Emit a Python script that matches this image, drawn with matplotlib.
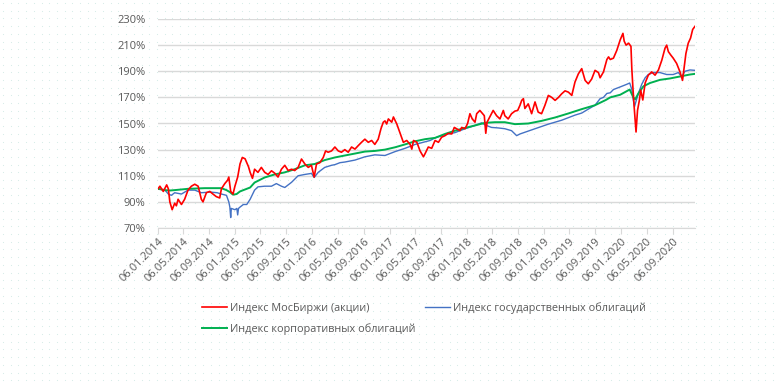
# coding: utf8

from matplotlib import pyplot as plt
import matplotlib.dates as mdates
from matplotlib.ticker import FuncFormatter
import numpy as np
import pandas as pd

# Индекс МосБиржи (акции), % от начального уровня
stock_dates = [
    "2014-01-06", "2014-01-15", "2014-01-23", "2014-01-31", "2014-02-16", "2014-02-24",
    "2014-03-03", "2014-03-14", "2014-03-26", "2014-04-03", "2014-04-11", "2014-04-27",
    "2014-05-12", "2014-05-28", "2014-06-13", "2014-06-29", "2014-07-15", "2014-07-30",
    "2014-08-07", "2014-08-23", "2014-09-08", "2014-09-23", "2014-10-09", "2014-10-25",
    "2014-11-02", "2014-11-18", "2014-12-01", "2014-12-07", "2014-12-16", "2014-12-27",
    "2015-01-05", "2015-01-18", "2015-01-29", "2015-02-09", "2015-02-22", "2015-03-02",
    "2015-03-10", "2015-03-18", "2015-03-29", "2015-04-08", "2015-04-24", "2015-05-10",
    "2015-05-26", "2015-06-11", "2015-06-27", "2015-07-12", "2015-07-28", "2015-08-13",
    "2015-08-29", "2015-09-14", "2015-09-30", "2015-10-15", "2015-10-31", "2015-11-16",
    "2015-12-02", "2015-12-18", "2016-01-02", "2016-01-15", "2016-01-26", "2016-02-11",
    "2016-02-27", "2016-03-09", "2016-03-21", "2016-04-06", "2016-04-22", "2016-05-08",
    "2016-05-23", "2016-06-08", "2016-06-24", "2016-07-10", "2016-07-26", "2016-08-10",
    "2016-08-26", "2016-09-11", "2016-09-27", "2016-10-13", "2016-10-28", "2016-11-13",
    "2016-11-26", "2016-12-07", "2016-12-15", "2016-12-23", "2016-12-31", "2017-01-16",
    "2017-01-24", "2017-02-09", "2017-02-17", "2017-03-04", "2017-03-12", "2017-03-28",
    "2017-04-13", "2017-04-21", "2017-04-29", "2017-05-15", "2017-05-30", "2017-06-15",
    "2017-06-23", "2017-07-08", "2017-07-24", "2017-08-09", "2017-08-25", "2017-09-09",
    "2017-09-25", "2017-10-11", "2017-10-27", "2017-11-08", "2017-11-19", "2017-12-05",
    "2017-12-13", "2017-12-29", "2018-01-10", "2018-01-21", "2018-02-01", "2018-02-14",
    "2018-02-22", "2018-03-09", "2018-03-30", "2018-04-06", "2018-04-12", "2018-04-25",
    "2018-05-11", "2018-05-27", "2018-06-12", "2018-06-28", "2018-07-05", "2018-07-21",
    "2018-08-06", "2018-08-22", "2018-09-04", "2018-09-15", "2018-09-23", "2018-10-01",
    "2018-10-08", "2018-10-24", "2018-11-09", "2018-11-25", "2018-12-10", "2018-12-26",
    "2019-01-11", "2019-01-27", "2019-02-12", "2019-02-28", "2019-03-16", "2019-03-31",
    "2019-04-16", "2019-05-02", "2019-05-18", "2019-06-02", "2019-06-18", "2019-07-04",
    "2019-07-20", "2019-08-04", "2019-08-20", "2019-09-05", "2019-09-21", "2019-09-29",
    "2019-10-15", "2019-10-31", "2019-11-08", "2019-11-16", "2019-12-01", "2019-12-17",
    "2019-12-25", "2020-01-02", "2020-01-15", "2020-01-21", "2020-01-30", "2020-02-11",
    "2020-02-22", "2020-02-26", "2020-03-02", "2020-03-08", "2020-03-13", "2020-03-17",
    "2020-03-24", "2020-04-02", "2020-04-08", "2020-04-18", "2020-04-29", "2020-05-14",
    "2020-05-30", "2020-06-15", "2020-07-01", "2020-07-17", "2020-08-01", "2020-08-09",
    "2020-08-17", "2020-08-28", "2020-09-09", "2020-09-25", "2020-10-11", "2020-10-23",
    "2020-10-30", "2020-11-08", "2020-11-19", "2020-11-30", "2020-12-10", "2020-12-21",
]
stock_values = [
    100, 102, 100, 98, 103, 100,
    90, 84, 89, 87, 92, 88,
    92, 99, 102, 103.5, 102, 92,
    90, 97, 98, 96, 94, 93,
    100, 104, 106.5, 109, 98, 96,
    102, 109, 119, 124, 123, 120,
    117, 112.6, 108, 115, 112.6, 116.4,
    112.6, 111, 113.8, 112, 109, 115,
    118, 114, 115, 114, 116.4, 122.8,
    119, 116.4, 118, 109, 119, 120,
    124, 129, 128, 129, 132, 129,
    128, 130, 128, 132, 130.4, 133,
    135.6, 138, 135.6, 137, 134, 138,
    146, 151, 152, 149.6, 153.5, 151,
    155, 149.6, 146, 139, 135.6, 137,
    134, 130.4, 137, 135.6, 129, 124.5,
    127, 132, 131, 137, 135.6, 139.5,
    140.7, 142.5, 142, 147, 146, 144.5,
    147, 146, 150, 157.5, 153.5, 151,
    157.5, 160, 156, 142.5, 151, 155,
    160, 156, 153.5, 160, 156, 153.5,
    157.5, 159.5, 160, 164, 167.7, 169,
    161.5, 165, 157.5, 166.5, 158.7, 157.5,
    164, 171.5, 170, 167.7, 170, 172.7,
    175, 174, 171.5, 181.7, 188, 192,
    183, 180.4, 184, 190.7, 189, 185,
    189.5, 199, 201, 199, 200, 206,
    210, 214, 219, 213, 210, 211.5,
    209, 192, 178, 163, 152.5, 143.5,
    160, 168, 175.6, 168, 181, 187,
    189.5, 187, 191, 198.5, 207.6, 210,
    205, 202.5, 200, 196, 189.5, 183,
    192, 203.6, 211.5, 215.4, 222, 224.4,
]

# Индекс государственных облигаций
gov_dates = [
    "2014-01-06", "2014-02-08", "2014-02-24", "2014-03-10", "2014-03-26", "2014-04-27",
    "2014-05-28", "2014-06-29", "2014-07-30", "2014-09-11", "2014-10-13", "2014-11-02",
    "2014-11-26", "2014-12-07", "2014-12-12", "2014-12-16", "2014-12-19", "2015-01-05",
    "2015-01-14", "2015-01-18", "2015-01-22", "2015-01-29", "2015-02-14", "2015-03-02",
    "2015-03-18", "2015-04-08", "2015-04-24", "2015-05-26", "2015-06-27", "2015-07-20",
    "2015-08-13", "2015-08-29", "2015-09-30", "2015-10-31", "2015-12-02", "2016-01-02",
    "2016-01-15", "2016-02-03", "2016-03-05", "2016-04-06", "2016-04-22", "2016-05-16",
    "2016-06-08", "2016-07-26", "2016-09-11", "2016-10-28", "2016-12-15", "2017-02-01",
    "2017-03-20", "2017-05-07", "2017-06-23", "2017-07-17", "2017-08-09", "2017-09-25",
    "2017-11-11", "2017-12-29", "2018-02-14", "2018-03-17", "2018-04-09", "2018-05-03",
    "2018-06-04", "2018-07-05", "2018-08-06", "2018-08-30", "2018-09-15", "2018-11-25",
    "2019-01-27", "2019-03-31", "2019-06-02", "2019-07-04", "2019-08-04", "2019-09-05",
    "2019-09-29", "2019-10-15", "2019-10-31", "2019-11-16", "2019-12-01", "2020-01-02",
    "2020-02-02", "2020-02-16", "2020-02-26", "2020-03-04", "2020-03-10", "2020-03-17",
    "2020-03-28", "2020-04-13", "2020-04-29", "2020-05-14", "2020-06-07", "2020-07-08",
    "2020-08-09", "2020-09-09", "2020-10-03", "2020-10-19", "2020-11-04", "2020-11-27",
    "2020-12-21",
]
gov_values = [
    100, 99, 96, 95, 97, 96,
    99, 99, 97, 97.5, 97, 96,
    95, 90, 86, 78, 85, 84,
    85, 80, 85, 86, 88, 88,
    92, 99, 101.5, 102, 102, 104,
    102, 101, 105, 110, 111, 111.8,
    108.7, 112.6, 116.4, 118, 118.5, 120,
    120.5, 122, 124.5, 126, 125.5, 128.5,
    131, 134, 136, 137, 139, 141.5,
    143, 146, 148.5, 150.5, 148.5, 147,
    146.6, 146, 144.5, 140.7, 142, 146,
    149.5, 152.5, 156.4, 158, 161, 164,
    169, 170, 173, 173.5, 176, 178,
    180, 181, 176, 168, 163, 167,
    173, 180, 185, 187.5, 189, 189,
    187.5, 187.5, 189, 186, 190, 191,
    190.7,
]

# Индекс корпоративных облигаций
corp_dates = [
    "2014-01-06", "2014-02-08", "2014-03-03", "2014-03-26", "2014-04-27", "2014-05-28",
    "2014-08-15", "2014-11-02", "2014-11-26", "2014-12-12", "2014-12-27", "2015-01-13",
    "2015-01-29", "2015-02-22", "2015-03-18", "2015-04-08", "2015-05-26", "2015-07-12",
    "2015-08-29", "2015-10-15", "2015-12-02", "2016-01-18", "2016-03-05", "2016-04-22",
    "2016-06-08", "2016-07-26", "2016-09-11", "2016-10-28", "2016-12-15", "2017-02-01",
    "2017-03-20", "2017-05-07", "2017-06-23", "2017-08-09", "2017-09-25", "2017-11-11",
    "2017-12-29", "2018-02-14", "2018-04-02", "2018-05-19", "2018-07-05", "2018-08-22",
    "2018-10-24", "2018-12-26", "2019-02-28", "2019-05-02", "2019-07-04", "2019-09-05",
    "2019-10-26", "2019-11-16", "2020-01-02", "2020-02-16", "2020-03-04", "2020-03-13",
    "2020-03-28", "2020-04-21", "2020-05-22", "2020-07-08", "2020-08-25", "2020-10-11",
    "2020-11-27", "2020-12-21",
]
corp_values = [
    100, 99, 98.7, 99, 99.5, 100,
    100.5, 100.5, 99, 97.5, 95.5, 96,
    98, 99.5, 101, 104.8, 108.7, 111,
    112.6, 115, 118, 119, 122, 124,
    125.5, 127, 128.5, 129, 130, 131.8,
    134, 136.4, 138, 139, 142, 144.5,
    146.6, 148.5, 150.5, 151, 151, 149.5,
    150, 152, 154.6, 157.7, 161, 164,
    168, 170, 172, 176, 170, 168.5,
    173, 178.5, 181, 183.4, 184.5, 186,
    187.5, 188,
]

y_ticks = [70, 90, 110, 130, 150, 170, 190, 210, 230]
labels = ["Индекс МосБиржи (акции)", "Индекс государственных облигаций",
          "Индекс корпоративных облигаций"]


def draw_chart():
    plt.rcParams["font.family"] = ["Open Sans", "DejaVu Sans"]
    text_color = "#595959"

    fig = plt.figure(figsize=(7.81, 3.86), dpi=100)
    fig.patch.set_facecolor("white")

    # точечный фон, как в исходной картинке
    bg = fig.add_axes([0, 0, 1, 1], zorder=-5)
    bg.set_xlim(0, 781)
    bg.set_ylim(386, 0)
    bg.axis("off")
    gx, gy = np.meshgrid(np.arange(3, 781, 7.7), np.arange(3, 386, 7.7))
    bg.scatter(gx.ravel(), gy.ravel(), s=0.6, color="#d3ebe6", linewidths=0)

    ax = fig.add_axes([158 / 781, 1 - 228 / 386, (695 - 158) / 781, (228 - 19) / 386])
    ax.set_facecolor("none")

    sd = pd.to_datetime(stock_dates)
    gd = pd.to_datetime(gov_dates)
    cd = pd.to_datetime(corp_dates)

    l_gov, = ax.plot(gd, gov_values, color="#4472c4", lw=1.0, zorder=3)
    l_corp, = ax.plot(cd, corp_values, color="#00b050", lw=1.4, zorder=4)
    l_stock, = ax.plot(sd, stock_values, color="#ff0000", lw=1.2, zorder=5)

    ax.set_ylim(70, 230)
    ax.set_yticks(y_ticks)
    ax.yaxis.set_major_formatter(FuncFormatter(lambda v, p: "%d%%" % v))
    ax.set_xlim(sd.min(), sd.max())
    ax.xaxis.set_major_locator(mdates.MonthLocator(bymonth=[1, 5, 9], bymonthday=6))
    ax.xaxis.set_major_formatter(mdates.DateFormatter("%d.%m.%Y"))

    ax.grid(axis="y", color="#d9d9d9", lw=1.0)
    ax.set_axisbelow(True)
    for s in ["top", "right", "left"]:
        ax.spines[s].set_visible(False)
    ax.spines["bottom"].set_color("#d9d9d9")
    ax.tick_params(axis="y", length=0, labelsize=8, labelcolor=text_color, pad=9)
    ax.tick_params(axis="x", length=4, color="#d9d9d9", labelsize=8,
                   labelcolor=text_color, pad=2)
    for t in ax.get_xticklabels():
        t.set_rotation(45)
        t.set_ha("right")
        t.set_rotation_mode("anchor")

    fig.legend([l_stock, l_corp, l_gov], [labels[0], labels[2], labels[1]],
               ncol=2, loc="upper left", bbox_to_anchor=(192 / 781, 1 - 292 / 386),
               frameon=False, fontsize=7.8, labelcolor=text_color,
               handlelength=2.3, handletextpad=0.35, columnspacing=0.8,
               labelspacing=0.85)

    fig.savefig("out.png", dpi=100)


if __name__ == '__main__':
    draw_chart()
